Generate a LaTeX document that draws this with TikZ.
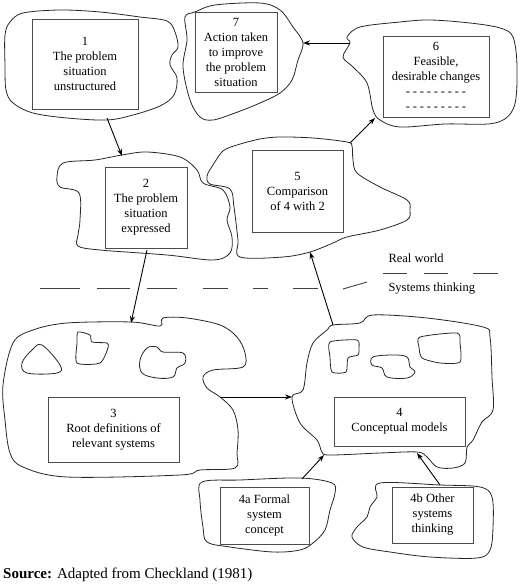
\documentclass[tikz,border=0pt]{standalone}
\usepackage{fontspec}
\setmainfont{Liberation Serif}
\usetikzlibrary{arrows.meta}
\newcommand{\hy}{\makebox[7pt]{-}}
\newcommand{\hyrow}{\hy\hy\hy\hy\hy\hy\hy\hy\hy}

\begin{document}
\begin{tikzpicture}[x=1pt, y=-1pt,
    blob/.style={draw=black!85, line width=0.8pt},
    box/.style={draw=black!70, line width=0.9pt, align=center, inner sep=0pt, font=\fontsize{12.5}{15}\selectfont},
    arr/.style={-{Stealth[length=7pt,width=5pt]}, line width=0.9pt},
    sep/.style={black!75, line width=0.9pt},
    lbl/.style={anchor=west, font=\fontsize{12.5}{15}\selectfont}]
    \useasboundingbox (0,0) rectangle (520,585);
    %\draw[gray!50, thin, step=20] (0,0) grid (520,585);

    % the blobs
    \draw[blob] plot[smooth cycle, tension=0.55] coordinates {(23,13) (60,10) (100,12) (140,17) (167,21) (175,32) (178,47) (172,55) (170,65) (177,78) (174,95) (160,106) (133,115) (107,120) (67,118) (33,113) (13,103) (6,90) (5,65) (5,35) (10,22)};
    \draw[blob] plot[smooth cycle, tension=0.55] coordinates {(195,12) (215,5) (260,3) (280,10) (293,27) (303,43) (298,60) (292,80) (280,93) (260,103) (235,113) (213,120) (200,117) (190,100) (183,67) (187,40) (185,17)};
    \draw[blob] plot[smooth cycle, tension=0.55] coordinates {(350,43) (347,37) (360,27) (400,22) (430,20) (470,23) (500,28) (513,37) (517,67) (514,107) (495,123) (445,124) (400,127) (380,120) (373,110) (367,83) (353,67) (343,57)};
    \draw[blob] plot[smooth cycle, tension=0.55] coordinates {(63,163) (95,160) (122,155) (147,152) (180,157) (197,170) (203,183) (223,190) (230,207) (227,220) (232,237) (230,253) (213,260) (167,255) (100,250) (78,246) (78,235) (80,220) (79,193) (60,187) (57,177)};
    \draw[blob] plot[smooth cycle, tension=0.55] coordinates {(207,176) (213,165) (223,151) (237,145) (260,139) (280,137) (313,138) (347,142) (352,146) (353,160) (357,173) (380,187) (407,200) (410,210) (407,220) (380,230) (347,237) (333,243) (310,252) (283,257) (240,257) (238,240) (234,207) (230,189) (210,184)};
    \draw[blob] plot[smooth cycle, tension=0.55] coordinates {(33,330) (67,323) (131,322) (160,326) (163,318) (187,318) (220,325) (237,337) (245,353) (243,367) (213,370) (203,377) (207,388) (220,397) (233,410) (238,430) (237,453) (235,468) (200,470) (180,475) (67,477) (23,467) (10,453) (5,420) (3,385) (13,343)};
    \draw[blob] plot[smooth cycle, tension=0.55] coordinates {(333,325) (360,323) (373,315) (427,318) (483,327) (490,337) (492,377) (493,410) (482,422) (473,440) (467,447) (465,463) (453,468) (437,467) (427,457) (417,452) (380,453) (330,455) (322,452) (317,440) (300,423) (292,397) (303,390) (307,363) (313,343) (327,330)};
    \draw[blob] plot[smooth cycle, tension=0.55] coordinates {(202,482) (240,480) (300,478) (332,483) (335,493) (330,510) (325,530) (313,543) (300,550) (273,552) (230,547) (207,542) (203,527) (200,500)};
    \draw[blob] plot[smooth cycle, tension=0.55] coordinates {(380,483) (440,485) (480,487) (492,497) (493,527) (490,550) (477,558) (430,557) (390,552) (363,547) (352,537) (357,527) (367,517) (370,507) (377,497)};

    % little ones inside 3 and 4
    \draw[blob] plot[smooth cycle, tension=0.6] coordinates {(42,345) (60,365) (57,373) (27,373) (22,363) (32,350)};
    \draw[blob] plot[smooth cycle, tension=0.4] coordinates {(78,332) (90,335) (92,342) (107,343) (108,348) (100,363) (77,363) (77,343)};
    \draw[blob] plot[smooth cycle, tension=0.6] coordinates {(147,348) (157,347) (163,352) (183,353) (185,363) (177,368) (173,377) (157,378) (142,373) (140,360)};
    \draw[blob] plot[smooth cycle, tension=0.4] coordinates {(330,342) (357,340) (359,348) (358,355) (348,358) (346,372) (332,372) (330,357)};
    \draw[blob] plot[smooth cycle, tension=0.6] coordinates {(373,357) (393,355) (407,357) (410,367) (415,372) (407,378) (387,377) (382,368) (372,365)};
    \draw[blob] plot[smooth cycle, tension=0.4] coordinates {(420,337) (457,333) (460,343) (460,362) (440,363) (422,358) (419,347)};

    \node[box, minimum width=106, minimum height=90] (b1) at (85,64) {1\\The problem\\situation\\unstructured};
    \node[box, minimum width=82, minimum height=80] (b7) at (236,52) {7\\Action taken\\to improve\\the problem\\situation};
    \node[box, minimum width=106, minimum height=81] (b6) at (436,76.5) {6\\Feasible,\\desirable changes\\\hyrow\\\hyrow};
    \node[box, minimum width=82, minimum height=81] (b2) at (146,207.5) {2\\The problem\\situation\\expressed};
    \node[box, minimum width=91, minimum height=82] (b5) at (297.5,191) {5\\Comparison\\of 4 with 2};
    \node[box, minimum width=131, minimum height=65] (b3) at (113.5,429.5) {3\\Root definitions of\\relevant systems};
    \node[box, minimum width=131, minimum height=49] (b4) at (399.5,421.5) {4\\Conceptual models};
    \node[box, minimum width=89, minimum height=57] (b4a) at (264.5,515.5) {4a Formal\\system\\concept};
    \node[box, minimum width=81, minimum height=56] (b4b) at (432.5,515) {4b Other\\systems\\thinking};

    % ends of the arrows on the blob edges
    \coordinate (o1) at (107,118);   \coordinate (i2) at (122,156);
    \coordinate (o2) at (147,250);   \coordinate (i3) at (131,323);
    \coordinate (o3) at (220,397);   \coordinate (i4) at (292,397);
    \coordinate (o4) at (333,325);   \coordinate (i5) at (310,252);
    \coordinate (o5) at (350,143);   \coordinate (i6) at (375,118);
    \coordinate (o6) at (350,43);    \coordinate (i7) at (303,43);
    \coordinate (o4a) at (302,479);  \coordinate (i4a) at (324,455);
    \coordinate (o4b) at (440,485);  \coordinate (i4b) at (417,453);

    \draw[arr] (o1) -- (i2);
    \draw[arr] (o2) -- (i3);
    \draw[arr] (o3) -- (i4);
    \draw[arr] (o4) -- (i5);
    \draw[arr] (o5) -- (i6);
    \draw[arr] (o6) -- (i7);
    \draw[arr] (o4a) -- (i4a);
    \draw[arr] (o4b) -- (i4b);

    % real world / systems thinking
    \foreach \a/\b in {40/80, 97/130, 147/177, 203/228, 253/268, 293/318} \draw[sep] (\a,288) -- (\b,288);
    \draw[sep] (343,289) -- (367,282);
    \foreach \a/\b in {383/407, 424/448, 473/498} \draw[sep] (\a,273) -- (\b,273);
    \node[lbl] (rw) at (385,258) {Real world};
    \node[lbl] (st) at (385,289) {Systems thinking};

    \node[anchor=base west, inner sep=0pt, font=\fontsize{15}{18}\selectfont] (src) at (3,578) {\textbf{Source:} Adapted from Checkland (1981)};
\end{tikzpicture}
\end{document}
